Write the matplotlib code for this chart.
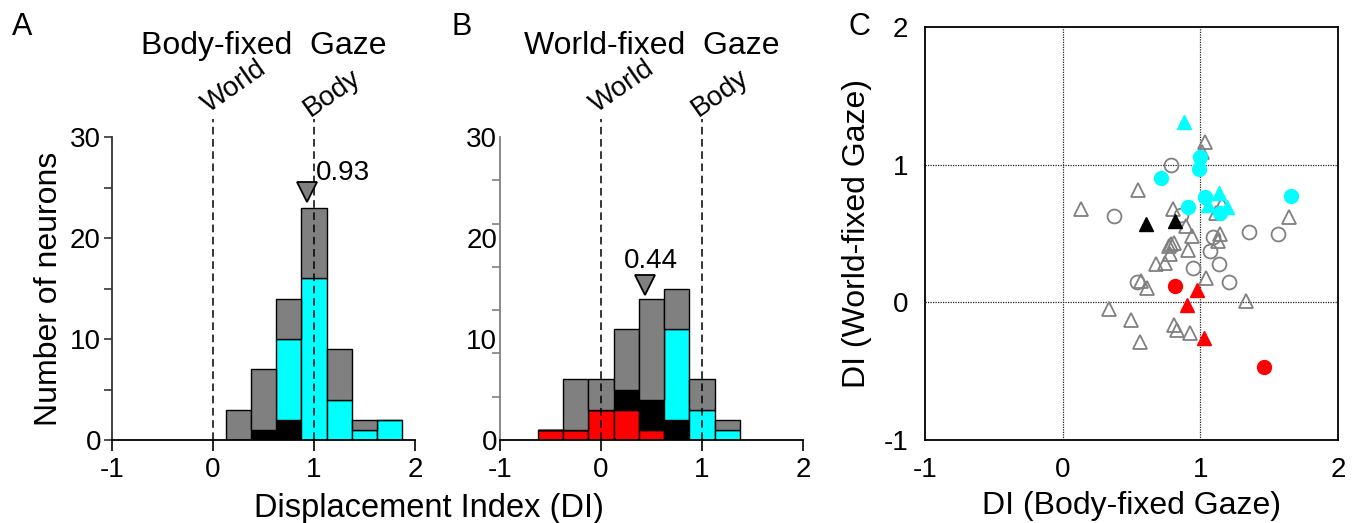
import numpy as np
import matplotlib
matplotlib.use('Agg')
import matplotlib.pyplot as plt

plt.rcParams['font.family'] = ['Liberation Sans', 'DejaVu Sans']

# ---- histogram data (bin width 0.25) ----
a_centers = [0.25, 0.5, 0.75, 1.0, 1.25, 1.5, 1.75]
a_black = [0, 1, 2, 0, 0, 0, 0]
a_cyan = [0, 0, 8, 16, 4, 1, 2]
a_gray = [3, 6, 4, 7, 5, 1, 0]
a_median = 0.93

b_centers = [-0.5, -0.25, 0.0, 0.25, 0.5, 0.75, 1.0, 1.25]
b_red = [1, 1, 3, 3, 1, 0, 0, 0]
b_black = [0, 0, 0, 2, 3, 2, 0, 0]
b_cyan = [0, 0, 0, 0, 0, 9, 3, 1]
b_gray = [0, 5, 3, 6, 10, 4, 3, 1]
b_median = 0.44

# ---- scatter data ----
gray_tri_x = [1.034, 1.01, 0.549, 1.16, 0.131, 0.80, 1.114, 1.642, 0.894, 0.942, 1.143, 1.126,
              0.785, 0.809, 0.775, 0.908, 0.78, 0.678, 0.741, 1.041, 0.567, 0.613, 1.332,
              0.339, 0.494, 0.811, 0.833, 0.925, 0.562]
gray_tri_y = [1.165, 1.09, 0.813, 0.715, 0.68, 0.68, 0.649, 0.617, 0.557, 0.484, 0.499, 0.443,
              0.424, 0.431, 0.407, 0.38, 0.351, 0.281, 0.286, 0.174, 0.158, 0.104, 0.012,
              -0.046, -0.126, -0.164, -0.198, -0.222, -0.29]
gray_circ_x = [0.789, 0.371, 0.862, 1.352, 1.562, 1.095, 1.073, 1.138, 0.949, 1.206, 0.542]
gray_circ_y = [1.0, 0.63, 0.637, 0.513, 0.499, 0.475, 0.371, 0.281, 0.25, 0.148, 0.148]
cyan_circ_x = [0.995, 0.988, 0.712, 1.032, 1.657, 0.913, 1.146]
cyan_circ_y = [1.053, 0.969, 0.90, 0.763, 0.775, 0.695, 0.651]
cyan_tri_x = [0.884, 1.138, 1.058, 1.196]
cyan_tri_y = [1.307, 0.797, 0.71, 0.69]
black_tri_x = [0.603, 0.814]
black_tri_y = [0.569, 0.593]
red_circ_x = [0.818, 1.461]
red_circ_y = [0.119, -0.472]
red_tri_x = [0.976, 0.901, 1.027]
red_tri_y = [0.087, -0.017, -0.256]

GRAY = '#808080'
CYAN = '#00FFFF'
RED = '#FF0000'

fig = plt.figure(figsize=(13.6, 5.23), dpi=100)
W, H = 1360, 523


def px_axes(x0, y0, x1, y1):
    return fig.add_axes([x0 / W, (H - y1) / H, (x1 - x0) / W, (y1 - y0) / H])


def stacked(ax, centers, layers):
    bottom = np.zeros(len(centers))
    for vals, col in layers:
        vals = np.array(vals)
        ax.bar(centers, vals, width=0.25, bottom=bottom, color=col,
               edgecolor='black', linewidth=1.0, zorder=2)
        bottom = bottom + vals
    return bottom


def hist_panel(ax, left_color):
    ax.set_xlim(-1, 2)
    ax.set_ylim(0, 30)
    for s in ['top', 'right']:
        ax.spines[s].set_visible(False)
    ax.spines['left'].set_color(left_color)
    ax.spines['left'].set_linewidth(1.3)
    ax.spines['bottom'].set_linewidth(1.3)
    ax.set_xticks([-1, 0, 1, 2])
    ax.set_xticklabels(['-1', '0', '1', '2'])
    ax.tick_params(axis='x', length=8, width=1.2, labelsize=20, pad=4)
    ax.tick_params(axis='y', which='both', length=6, width=1.2, color=left_color,
                   labelsize=20, pad=2)
    for xv in [0, 1]:
        ax.plot([xv, xv], [0, 31.8], color='black', linestyle=(0, (5, 3)),
                linewidth=1.1, clip_on=False, zorder=3)
    ax.patch.set_visible(False)


# ---- panel A ----
axA = px_axes(112, 137, 415, 440)
stacked(axA, a_centers, [(a_black, 'black'), (a_cyan, CYAN), (a_gray, GRAY)])
hist_panel(axA, '#333333')
axA.set_yticks([0, 10, 20, 30])
axA.set_yticks([5, 15, 25], minor=True)
axA.plot([a_median], [24.6], marker='v', markersize=15, color=GRAY,
         markeredgecolor='black', markeredgewidth=1.3, clip_on=False, zorder=4)
axA.text(a_median + 0.09, 26.4, '0.93', fontsize=20, va='center', ha='left')
axA.set_ylabel('Number of neurons', fontsize=23, labelpad=4)
axA.set_title('Body-fixed  Gaze', fontsize=23, pad=60)

# ---- panel B ----
axB = px_axes(500, 137, 803, 440)
stacked(axB, b_centers, [(b_red, RED), (b_black, 'black'), (b_cyan, CYAN), (b_gray, GRAY)])
hist_panel(axB, GRAY)
axB.set_yticks([0, 10, 20, 30])
axB.tick_params(axis='y', which='major', length=0)
axB.set_yticks(np.linspace(0, 30, 8), minor=True)
axB.plot([b_median], [15.3], marker='v', markersize=15, color=GRAY,
         markeredgecolor='black', markeredgewidth=1.3, clip_on=False, zorder=4)
axB.text(b_median + 0.05, 17.7, '0.44', fontsize=20, va='center', ha='center')
axB.set_title('World-fixed  Gaze', fontsize=23, pad=60)

for ax in [axA, axB]:
    ax.text(-0.04, 32.4, 'World', rotation=35, rotation_mode='anchor',
            fontsize=20, ha='left', va='baseline')
    ax.text(0.96, 32.0, 'Body', rotation=35, rotation_mode='anchor',
            fontsize=20, ha='left', va='baseline')

fig.text(429 / W, (H - 508) / H, 'Displacement Index (DI)', fontsize=23.5,
         ha='center', va='center')

# ---- panel C ----
axC = px_axes(925, 27, 1338, 440)
axC.set_xlim(-1, 2)
axC.set_ylim(-1, 2)
for s in axC.spines.values():
    s.set_linewidth(1.3)
axC.set_xticks([-1, 0, 1, 2])
axC.set_yticks([-1, 0, 1, 2])
axC.set_xticklabels(['-1', '0', '1', '2'])
axC.set_yticklabels(['-1', '0', '1', '2'])
axC.tick_params(length=0, labelsize=20, pad=12)
for v in [0, 1]:
    axC.axvline(v, color='#222222', linestyle=(0, (1, 1)), linewidth=0.9, zorder=1)
    axC.axhline(v, color='#222222', linestyle=(0, (1, 1)), linewidth=0.9, zorder=1)

axC.plot(gray_tri_x, gray_tri_y, '^', markersize=10, markerfacecolor='none',
         markeredgecolor=GRAY, markeredgewidth=1.3, linestyle='none', zorder=2)
axC.plot(gray_circ_x, gray_circ_y, 'o', markersize=10, markerfacecolor='none',
         markeredgecolor=GRAY, markeredgewidth=1.3, linestyle='none', zorder=2)
axC.plot(cyan_circ_x, cyan_circ_y, 'o', markersize=10, color=CYAN, linestyle='none', zorder=3)
axC.plot(cyan_tri_x, cyan_tri_y, '^', markersize=10, color=CYAN, linestyle='none', zorder=3)
axC.plot(black_tri_x, black_tri_y, '^', markersize=10, color='black', linestyle='none', zorder=3)
axC.plot(red_circ_x, red_circ_y, 'o', markersize=10, color=RED, linestyle='none', zorder=3)
axC.plot(red_tri_x, red_tri_y, '^', markersize=10, color=RED, linestyle='none', zorder=3)

axC.set_xlabel('DI (Body-fixed Gaze)', fontsize=23, labelpad=6)
axC.set_ylabel('DI (World-fixed Gaze)', fontsize=23, labelpad=8)

# panel letters
fig.text(12 / W, (H - 27) / H, 'A', fontsize=22, va='center')
fig.text(452 / W, (H - 27) / H, 'B', fontsize=22, va='center')
fig.text(848 / W, (H - 27) / H, 'C', fontsize=22, va='center')

fig.savefig('out.png', dpi=100)
